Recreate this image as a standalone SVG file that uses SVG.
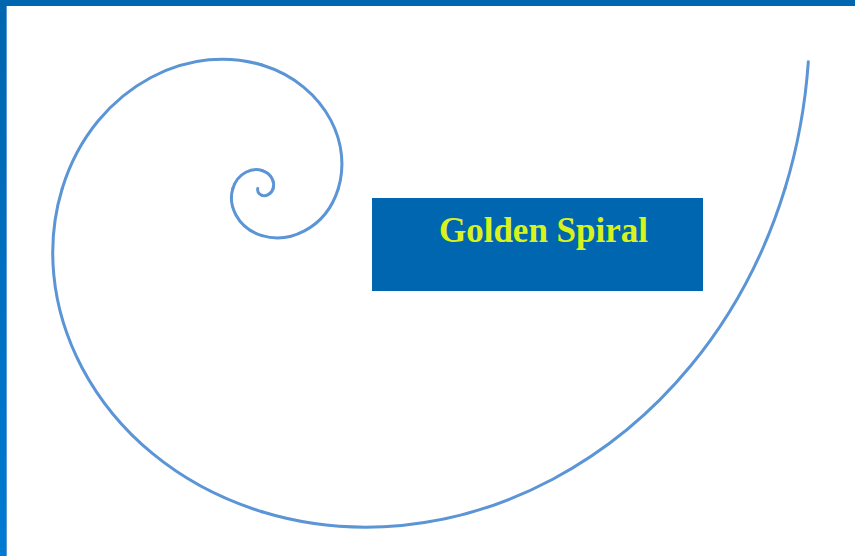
<svg xmlns="http://www.w3.org/2000/svg" xmlns:xlink="http://www.w3.org/1999/xlink" width="855" height="556" viewBox="0 0 855 556">
  <style>
    .sp { fill: none; stroke: #5b95d5; stroke-width: 3; stroke-linecap: round; stroke-linejoin: round; vector-effect: non-scaling-stroke; }
    .title { font-family: "Liberation Serif", "Times New Roman", serif; font-weight: bold; font-size: 35px; fill: #d8f21e; }
  </style>
  <defs>
    <linearGradient id="leftBar" x1="0" y1="0" x2="0" y2="1">
      <stop offset="0" stop-color="#0066ae"/>
      <stop offset="1" stop-color="#007ad2"/>
    </linearGradient>
    <path id="q" class="sp" d="M100,0 C91.875,26.522 74.849,45.362 55.589,55.589 C36.329,65.816 16.391,66.825 0,61.803"/>
  </defs>
  <rect x="0" y="0" width="855" height="556" fill="#ffffff"/>
  <g id="frame">
    <rect x="0" y="0" width="855" height="6" fill="#0066b0"/>
    <rect x="0" y="0" width="6" height="556" fill="url(#leftBar)"/>
    <rect x="6" y="6" width="1" height="550" fill="#5b9ad8"/>
  </g>
  <g id="spiral" transform="translate(262,188.5)">
    <path class="sp" transform="scale(5.23)" d="M104.459,-24.238 C103.868,-15.726 102.331,-7.608 100,0"/>
    <use xlink:href="#q" transform="rotate(0) scale(5.23)"/>
    <use xlink:href="#q" transform="rotate(90) scale(3.23232)"/>
    <use xlink:href="#q" transform="rotate(180) scale(1.99768)"/>
    <use xlink:href="#q" transform="rotate(270) scale(1.23464)"/>
    <use xlink:href="#q" transform="rotate(0) scale(0.76305)"/>
    <use xlink:href="#q" transform="rotate(90) scale(0.47159)"/>
    <use xlink:href="#q" transform="rotate(180) scale(0.29146)"/>
    <use xlink:href="#q" transform="rotate(270) scale(0.18013)"/>
    <use xlink:href="#q" transform="rotate(0) scale(0.11133)"/>
    <use xlink:href="#q" transform="rotate(90) scale(0.06880)"/>
  </g>
  <g id="golden-spiral-label">
    <rect x="372" y="198" width="331" height="93" fill="#0066b0"/>
    <text class="title" x="543.5" y="241.5" text-anchor="middle">Golden Spiral</text>
  </g>
</svg>
